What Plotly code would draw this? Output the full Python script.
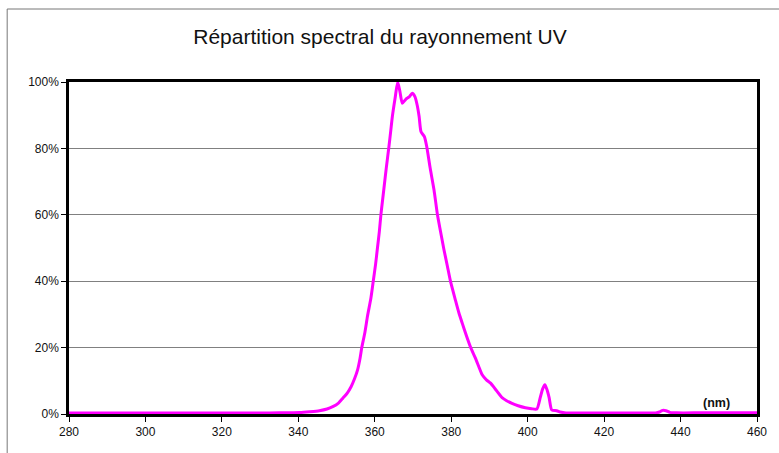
import plotly.graph_objects as go

# Wavelength (nm)
wavelength = [280, 290, 300, 310, 320, 330, 335, 340.3, 343, 345.5, 347.5, 349, 350.5,
              351.6, 352.8, 353.8, 354.7, 355.5, 356.1, 356.6, 357.4, 358.1, 359.0,
              359.6, 360.2, 360.7, 361.2, 361.6, 362.0, 362.4, 363.0, 363.7, 364.2,
              364.6, 365.3, 366.0, 366.6, 367.2, 368.1, 369.0, 369.8, 370.5, 371.1,
              371.6, 372.1, 373.0, 373.6, 374.5, 375.5, 376.4, 377.2, 378.1, 379.0,
              379.8, 381.1, 382.0, 382.9, 384.0, 385.1, 386.3, 387.2, 388.1, 389.2,
              390.3, 391.2, 392.0, 393.3, 394.5, 395.9, 397.5, 399.4, 401.0, 402.4,
              403.3, 403.9, 404.5, 405.0, 405.6, 406.3, 407.6, 408.5, 410, 415, 420,
              425, 430, 433.5, 434.5, 435.3, 436.2, 437.2, 439, 445, 450, 455, 460]

# Relative intensity (%)
intensity = [0.3, 0.3, 0.3, 0.3, 0.3, 0.3, 0.35, 0.45, 0.7, 1.0, 1.5, 2.2, 3.3,
             4.7, 6.3, 8.2, 10.6, 13.3, 16.5, 20.0, 24.5, 29.5, 35.0,
             40.0, 45.0, 50.0, 55.0, 60.0, 64.0, 68.0, 74.0, 80.5, 85.5,
             89.6, 95.0, 100.0, 97.0, 93.6, 94.8, 95.5, 96.6, 95.6, 93.0,
             89.6, 85.0, 83.5, 80.5, 74.0, 67.5, 60.0, 55.0, 49.5, 44.5,
             40.0, 34.3, 30.5, 27.3, 23.5, 20.0, 16.9, 14.3, 11.8, 10.3,
             9.3, 8.0, 6.8, 4.9, 4.0, 3.2, 2.5, 1.9, 1.6, 1.5,
             5.0, 7.5, 8.8, 7.5, 5.0, 1.2, 1.0, 0.6, 0.3, 0.3, 0.3,
             0.3, 0.3, 0.3, 0.6, 1.1, 1.0, 0.5, 0.35, 0.35, 0.35, 0.35, 0.35]

x_ticks = [280, 300, 320, 340, 360, 380, 400, 420, 440, 460]
y_ticks = [0, 20, 40, 60, 80, 100]

title_text = "Répartition spectral du rayonnement UV"
unit_label = "(nm)"

fig = go.Figure()
fig.add_trace(go.Scatter(
    x=wavelength, y=intensity, mode="lines",
    line=dict(color="#FF00FF", width=3, shape="spline", smoothing=0.6),
    showlegend=False, hoverinfo="x+y",
))

L, R, T, B = 69, 20, 82, 39
W, H = 779, 453
pw, ph = W - L - R, H - T - B

fig.update_layout(
    width=W, height=H,
    margin=dict(l=L, r=R, t=T, b=B),
    paper_bgcolor="white", plot_bgcolor="white",
    font=dict(family="Liberation Sans, Arial, sans-serif", size=12, color="#111"),
    title=dict(text=title_text, x=380 / W, xref="container", xanchor="center",
               y=1 - 37 / H, yref="container", yanchor="middle",
               font=dict(size=21, color="#111")),
    xaxis=dict(range=[280, 460], tickvals=x_ticks, ticktext=[str(v) for v in x_ticks],
               showgrid=False, zeroline=False, showline=True, linecolor="black",
               linewidth=2.5, mirror=True, ticks="outside", ticklen=5,
               tickcolor="black", tickwidth=1, tickfont=dict(size=12)),
    yaxis=dict(range=[0, 100], tickvals=y_ticks, ticktext=[f"{v}%" for v in y_ticks],
               showgrid=True, gridcolor="#808080", gridwidth=1, zeroline=False,
               showline=True, linecolor="black", linewidth=2.5, mirror=True,
               ticks="outside", ticklen=5, tickcolor="black", tickwidth=1,
               tickfont=dict(size=12)),
    shapes=[dict(type="rect", xref="paper", yref="paper",
                 x0=(7 - L) / pw, x1=(W + 10 - L) / pw,
                 y0=-(B + 10) / ph, y1=(H - 9 - B) / ph,
                 line=dict(color="#777", width=1), fillcolor="rgba(0,0,0,0)",
                 layer="below")],
    annotations=[dict(text="<b>" + unit_label + "</b>", xref="paper", yref="paper",
                      x=(718 - L) / pw, y=(414 - 403) / ph, showarrow=False,
                      xanchor="center", yanchor="middle",
                      font=dict(size=12.5, color="#111"))],
)

fig.write_html("out.html", config={"displayModeBar": False},
               post_script="document.body.style.margin='0';")
